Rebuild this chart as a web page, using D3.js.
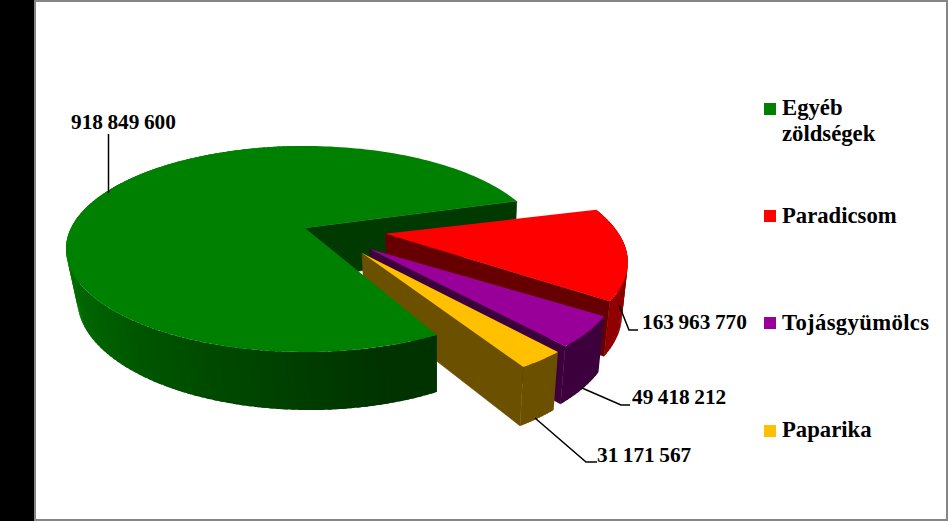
<!DOCTYPE html>
<html><head><meta charset="utf-8">
<script src="https://cdn.jsdelivr.net/npm/d3@7/dist/d3.min.js"></script>
<style>html,body{margin:0;padding:0;background:#000;overflow:hidden}svg{display:block}
text{font-family:"Liberation Serif","Times New Roman",serif;font-weight:bold;fill:#000}</style>
</head><body><svg id="c" width="948" height="521"></svg>
<script>
// ---- data ----
const categories = ["Egyéb zöldségek","Paradicsom","Tojásgyümölcs","Paparika"];
const legendLines = [["Egyéb","zöldségek"],["Paradicsom"],["Tojásgyümölcs"],["Paparika"]];
const values = [918849600,163963770,49418212,31171567];
const valueLabels = ["918 849 600","163 963 770","49 418 212","31 171 567"];
const topColors = ["#008000","#ff0000","#990099","#ffc000"];

// ---- layout ----
const W=948,H=521;
const svg=d3.select("#c");
svg.append("rect").attr("width",W).attr("height",H).attr("fill","#000");
svg.append("rect").attr("x",35).attr("y",1).attr("width",912).attr("height",519)
  .attr("fill","#fff").attr("stroke","#868686").attr("stroke-width",2);

// perspective projection of a unit-radius pie, depth measured downward
const P={cx:305,cy:228,A:234,B:98.7,k:0.204,m:0.03,C:51.6,S:4};
function proj(X,Y,h){
  const w=1+P.k*Y+P.m*h;
  return [P.cx+(P.A*X+P.S*h)/w, P.cy+(-P.B*Y+P.C*h)/w];
}
const rad=d3.scaleLinear().domain([0,360]).range([0,2*Math.PI]);
const pie=d3.pie().sort(null).startAngle(rad(150)).endAngle(rad(150)+2*Math.PI);
// small corrections for how the 3D view distorts the angles
const explode=[0,0.345,0.335,0.335], explodeTurn=[0,0,-5,-9], reach=[1,0.985,0.985,0.985];
const startNudge=[2.5,1,-1,0], endNudge=[-1,1.5,0,0];
const arcs=pie(values).map((a,i)=>({
  mid:(a.startAngle+a.endAngle)/2,
  startAngle:a.startAngle+rad(startNudge[i]),
  endAngle:a.endAngle+rad(endNudge[i])}));
const line=d3.line();
const wallRange=[["#003300","#007a00"],["#6a0000","#950000"],["#3c003c","#3c003c"],["#6b5000","#6b5000"]];
const cutColors=["#003a00","#660000","#3c003c","#6b5000"];

function sliceGeom(i){
  const a=arcs[i], d=a.mid+rad(explodeTurn[i]), e=explode[i], R=reach[i];
  const ox=e*Math.sin(d), oy=e*Math.cos(d);
  const pt=(t,r,h)=>proj(ox+R*r*Math.sin(t),oy+R*r*Math.cos(t),h);
  const n=Math.max(12,Math.ceil((a.endAngle-a.startAngle)/rad(1.5)));
  const ts=d3.range(n+1).map(j=>a.startAngle+(a.endAngle-a.startAngle)*j/n);
  return {pt,ts};
}
function drawCut(g,i){
  const {pt}=sliceGeom(i), e=arcs[i].endAngle;
  g.append("path").attr("fill",cutColors[i]).attr("stroke",cutColors[i]).attr("stroke-width",0.6)
   .attr("d",line([pt(e,0,0),pt(e,1,0),pt(e,1,1),pt(e,0,1)])+"Z");
}
function drawOuter(g,i){
  const {pt,ts}=sliceGeom(i);
  const greenColor=d3.scaleLinear().domain([rad(165),rad(270)]).range(wallRange[0]).clamp(true);
  const span=d3.scaleLinear().domain([arcs[i].startAngle,arcs[i].endAngle]).range(wallRange[i]);
  // painted near-side last so the bands overlap without seams
  const segs=d3.pairs(ts).filter(([t0])=>i>0||t0<rad(360));
  (i===0?segs.slice().reverse():segs).forEach(([t0,t1])=>{
    const c=(i===0)?greenColor((t0+t1)/2):span((t0+t1)/2);
    const over=(i===0)?t0-(t1-t0)*0.6:t1+(t1-t0)*0.6;
    const lim=(i===0)?Math.max(over,arcs[i].startAngle):Math.min(over,arcs[i].endAngle);
    const a0=(i===0)?lim:t0, a1=(i===0)?t1:lim;
    g.append("path").attr("fill",c)
     .attr("d",line([pt(a0,1,0),pt((a0+a1)/2,1,0),pt(a1,1,0),pt(a1,1,1),pt((a0+a1)/2,1,1),pt(a0,1,1)])+"Z");
  });
}
function drawTop(g,i){
  const {pt,ts}=sliceGeom(i);
  g.append("path").attr("fill",topColors[i])
   .attr("d",line([pt(0,0,0),...ts.map(t=>pt(t,1,0))])+"Z");
}
const g=svg.append("g");
drawCut(g,0);
[1,2,3].forEach(i=>{drawOuter(g,i);drawCut(g,i);drawTop(g,i);});
drawOuter(g,0);drawTop(g,0);

// leader lines and data labels
const labelPos=[[71,129],[642,329],[632,404],[597,462]];
const leaders=[[[108.5,134],[108.5,193]],[[619,305],[629,330],[638,330]],[[582,388],[621,405],[630,405]],[[535,418],[586,462],[597,462]]];
svg.append("g").selectAll("path").data(leaders).join("path")
  .attr("d",d=>line(d)).attr("fill","none").attr("stroke","#000").attr("stroke-width",1.5);
svg.append("g").selectAll("text").data(valueLabels).join("text")
  .attr("x",(d,i)=>labelPos[i][0]).attr("y",(d,i)=>labelPos[i][1])
  .attr("font-size",21.3).attr("word-spacing",-0.8).text(d=>d);

// legend
const legSquareY=[103,210,317,425], legBase=[[115,141],[223],[330],[437]], legSpacing=[0,0,0.35,0];
const leg=svg.append("g");
leg.selectAll("rect").data(categories).join("rect")
  .attr("x",764).attr("y",(d,i)=>legSquareY[i]).attr("width",12).attr("height",12)
  .attr("fill",(d,i)=>topColors[i]);
legendLines.forEach((ls,i)=>ls.forEach((t,j)=>{
  leg.append("text").attr("x",782).attr("y",legBase[i][j]).attr("font-size",22.7)
     .attr("letter-spacing",legSpacing[i]).text(t);
}));
</script></body></html>
